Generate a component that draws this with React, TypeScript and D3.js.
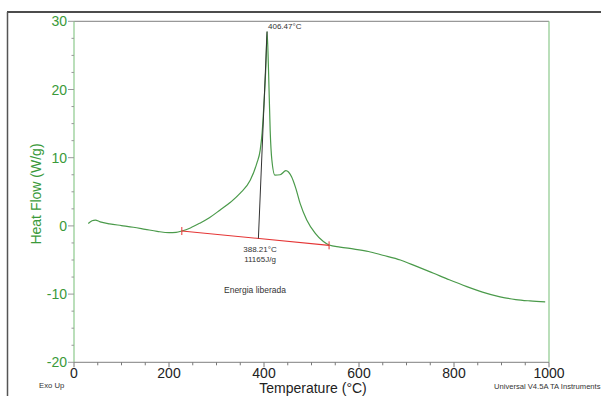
import React from "react";
import * as d3 from "d3";

const temps = [30, 38, 45, 55, 75, 100, 125, 150, 175, 200, 215, 227, 245, 265, 285, 307, 330, 350, 371, 385, 392, 396, 400, 404, 406.47, 409.5, 413, 416.5, 423, 434, 446, 458, 467, 476, 490, 508, 525, 537, 560, 590, 620, 650, 687, 720, 757, 790, 827, 860, 897, 930, 960, 992];
const heatFlow = [0.35, 0.75, 0.85, 0.6, 0.3, 0.05, -0.2, -0.5, -0.8, -1.0, -0.95, -0.75, -0.3, 0.4, 1.2, 2.3, 3.5, 4.8, 6.7, 9.2, 11.1, 13.6, 18, 23.5, 28.5, 22.9, 14, 9.7, 7.45, 7.5, 8.1, 7.2, 5.5, 3.3, 0.87, -1.1, -2.3, -2.8, -3.1, -3.4, -3.75, -4.3, -5.0, -5.9, -6.95, -7.9, -8.9, -9.7, -10.4, -10.8, -11.0, -11.15];

const xMajor = [0, 200, 400, 600, 800, 1000];
const yMajor = [-20, -10, 0, 10, 20, 30];
const baselineT = [227, 537];
const baselineY = [-0.75, -2.85];
const peakT = 406.47;
const peakY = 28.5;
const onsetT = 388.21;

const W = 601, H = 396;
const L = 74, R = 549, T = 21.3, B = 362.3;
const GREEN = "#3a9a3a";
const FONT = "'Liberation Sans', Arial, Helvetica, sans-serif";

export default function App() {
  const x = d3.scaleLinear().domain([0, 1000]).range([L, R]);
  const y = d3.scaleLinear().domain([-20, 30]).range([B, T]);
  const pts: [number, number][] = temps.map((t, i) => [t, heatFlow[i]]);
  const line = d3.line<[number, number]>().x(d => x(d[0])).y(d => y(d[1])).curve(d3.curveMonotoneX);
  const xMinor = d3.range(0, 1001, 50).filter(v => v % 200 !== 0);
  const yMinor = d3.range(-20, 30.01, 2.5).filter(v => v % 10 !== 0);
  const baseAt = (t: number) => baselineY[0] + (t - baselineT[0]) / (baselineT[1] - baselineT[0]) * (baselineY[1] - baselineY[0]);
  const onsetY = baseAt(onsetT);

  return (
    <svg width={W} height={H} style={{ position: "fixed", left: 0, top: 0, background: "#fff" }} fontFamily={FONT}>
      <rect width={W} height={H} fill="#fff" />
      {/* outer frame */}
      <line x1={7} x2={601} y1={12} y2={12} stroke="#111" strokeWidth={1.5} />
      <line x1={7.5} x2={7.5} y1={12} y2={396} stroke="#555" strokeWidth={1.5} />
      {/* plot frame */}
      <line x1={L} x2={R} y1={T} y2={T} stroke="#999" strokeWidth={1.2} />
      <line x1={R} x2={R} y1={T} y2={B} stroke="#8cc98c" strokeWidth={1.2} />
      <line x1={L} x2={L} y1={T} y2={B} stroke="#8cc98c" strokeWidth={1.2} />
      <line x1={L} x2={R} y1={B} y2={B} stroke="#999" strokeWidth={1.2} />
      {/* y ticks */}
      {yMajor.map(v => (
        <g key={"ym" + v}>
          <line x1={L - 6} x2={L} y1={y(v)} y2={y(v)} stroke="#999" />
          <text x={67} y={y(v)} dy="0.36em" textAnchor="end" fontSize={14} fill={GREEN}>{v}</text>
        </g>
      ))}
      {yMinor.map(v => (
        <line key={"yn" + v} x1={L - 2.5} x2={L} y1={y(v)} y2={y(v)} stroke="#999" />
      ))}
      {/* x ticks */}
      {xMajor.map(v => (
        <g key={"xm" + v}>
          <line x1={x(v)} x2={x(v)} y1={B} y2={B + 5} stroke="#777" />
          <text x={x(v)} y={378} textAnchor="middle" fontSize={14} fill="#222">{v}</text>
        </g>
      ))}
      {xMinor.map(v => (
        <line key={"xn" + v} x1={x(v)} x2={x(v)} y1={B} y2={B + 3} stroke="#777" />
      ))}
      {/* titles */}
      <text x={313} y={393} textAnchor="middle" fontSize={14} fill="#222">Temperature (°C)</text>
      <text transform="translate(41,194) rotate(-90)" textAnchor="middle" fontSize={14} fill={GREEN}>Heat Flow (W/g)</text>
      <text x={39} y={388} fontSize={7.7} fill="#333">Exo Up</text>
      <text x={494} y={388.5} fontSize={7.6} fill="#333">Universal V4.5A TA Instruments</text>
      {/* curve */}
      <path d={line(pts) || ""} fill="none" stroke="#4a9a4a" strokeWidth={1.2} />
      {/* baseline */}
      <line x1={x(baselineT[0])} x2={x(baselineT[1])} y1={y(baselineY[0])} y2={y(baselineY[1])} stroke="#e53535" strokeWidth={1.1} />
      {baselineT.map((t, i) => (
        <line key={"bt" + i} x1={x(t)} x2={x(t)} y1={y(baselineY[i]) - 4} y2={y(baselineY[i]) + 4} stroke="#e53535" strokeWidth={1} />
      ))}
      {/* peak line */}
      <line x1={x(peakT)} x2={x(onsetT)} y1={y(peakY)} y2={y(onsetY)} stroke="#333" strokeWidth={1} />
      {/* annotations */}
      <text x={268} y={29} fontSize={8} fill="#333">406.47°C</text>
      <text x={260} y={252} textAnchor="middle" fontSize={8} fill="#333">388.21°C</text>
      <text x={260} y={262} textAnchor="middle" fontSize={8} fill="#333">11165J/g</text>
      <text x={224} y={293} fontSize={8.5} fill="#333">Energia liberada</text>
    </svg>
  );
}
